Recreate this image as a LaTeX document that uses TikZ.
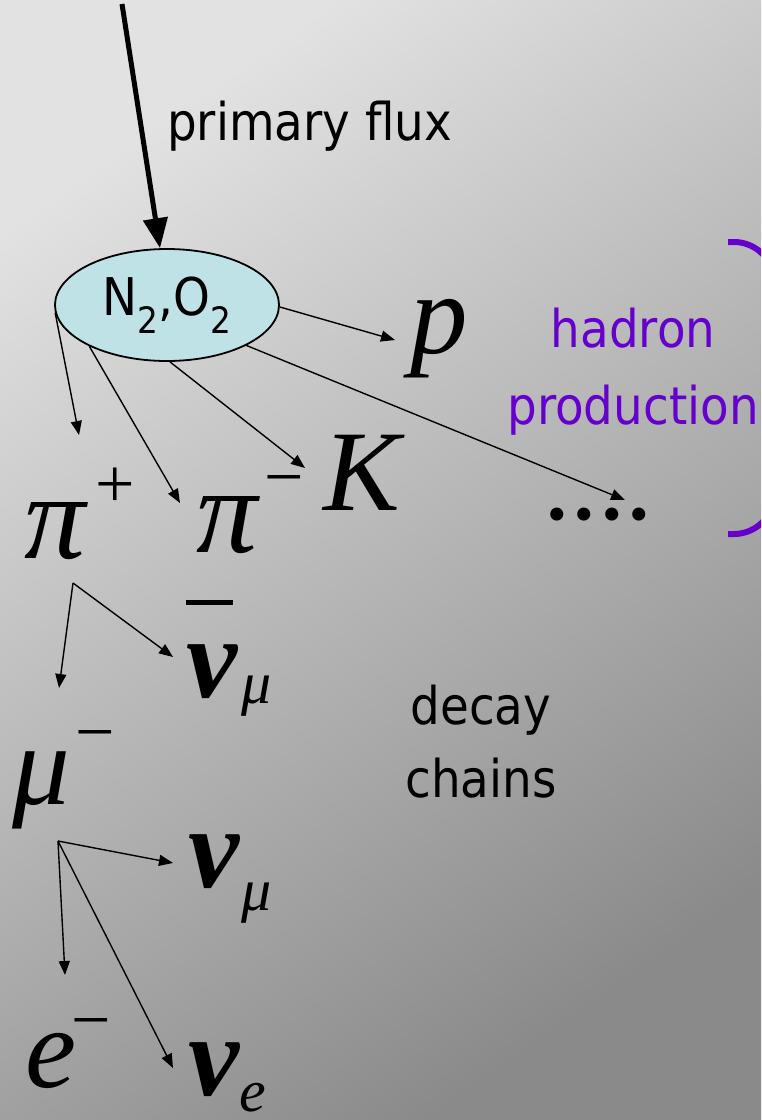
\documentclass[tikz,border=0pt]{standalone}
\usepackage{fontspec}
\setmainfont[FakeStretch=0.9]{DejaVu Sans}
\newfontfamily\tms{Liberation Serif}
\newcommand\supfnt{\tms\upshape\mdseries\fontsize{70}{70}\selectfont}
\newcommand\subfnt{\mdseries\fontsize{60}{60}\selectfont}
\usetikzlibrary{arrows.meta,shapes.geometric}
\definecolor{bgtop}{RGB}{226,226,226}
\definecolor{bgbot}{RGB}{138,138,138}
\definecolor{airfill}{HTML}{BEE2E6}
\definecolor{hadpurple}{HTML}{6600CC}
\begin{document}
\begin{tikzpicture}[x=1pt,y=-1pt,
  arr/.style={-{Triangle[length=14pt,width=11pt]}, line width=1.4pt},
  fluxarr/.style={-{Triangle[length=30pt,width=24pt]}, line width=5pt},
  sym/.style={font=\tms\itshape\fontsize{115}{115}\selectfont, inner sep=0},
  bsym/.style={font=\tms\itshape\bfseries\fontsize{115}{115}\selectfont, inner sep=0},
  lbl/.style={font=\fontsize{52}{52}\selectfont, inner sep=0, align=center},
]
\useasboundingbox (0,0) rectangle (761,1120);
\clip (0,0) rectangle (761,1120);
\shade[top color=bgtop, bottom color=bgbot, shading angle=35] (0,0) rectangle (761,1120);

% primary flux
\coordinate (src) at (122,4);
\node[lbl, anchor=base west] (fluxlbl) at (167,140) {primary flux};
\node[ellipse, draw, line width=1.8pt, fill=airfill, minimum width=224pt, minimum height=112pt, inner sep=0,
      font=\fontsize{52}{52}\selectfont] (air) at (167,305) {N\textsubscript{2},O\textsubscript{2}};
\draw[fluxarr] (src) -- (air.97);

% hadrons
\node[sym, anchor=base west] (p) at (410,353) {p};
\node[sym, anchor=base west, font=\tms\itshape\fontsize{122}{122}\selectfont] (piplus) at (24,558) {\rlap{π}\hspace{71pt}\raisebox{51pt}{\supfnt +}};
\node[sym, anchor=base west, font=\tms\itshape\fontsize{122}{122}\selectfont] (piminus) at (196,552) {\rlap{π}\hspace{68pt}\raisebox{52pt}{\supfnt −}};
\node[sym, anchor=base west] (K) at (323,510) {K};
\node[inner sep=0, anchor=base west, font=\tms\upshape\fontsize{110}{110}\selectfont] (dots) at (543,519) {....};

\coordinate (tpip) at (79,435);
\coordinate (tpim) at (180,503);
\coordinate (tK) at (305,468);
\coordinate (tdots) at (625,500);
\coordinate (tp) at (395,340);
\draw[arr] (air.184) -- (tpip);
\draw[arr] (air.208) -- (tpim);
\draw[arr] (air.273) -- (tK);
\draw[arr] (air.333) -- (tdots);
\draw[arr] (air.359) -- (tp);

% hadron production
\node[lbl, text=hadpurple, font=\fontsize{52}{77}\selectfont] (hadlbl) at (633,372) {hadron\\production};
\draw[hadpurple, line width=6pt, rounded corners=40pt] (728,242) -- (774,242) -- (774,534) -- (728,534);

% pion decay
\coordinate (pidec) at (73,583);
\coordinate (tmu) at (59,688);
\coordinate (tnumubar) at (173,657);
\draw[arr] (pidec) -- (tmu);
\draw[arr] (pidec) -- (tnumubar);
\node[bsym, anchor=base west] (numubar) at (186,697) {\rlap{\raisebox{92pt}{\rule{47pt}{5pt}}}ν\hspace{4pt}\raisebox{-6pt}{\subfnt μ}};
\node[sym, anchor=base west] (mu) at (12,804) {\rlap{μ}\hspace{63pt}\raisebox{49pt}{\supfnt −}};

\node[lbl, font=\fontsize{52}{73}\selectfont] (declbl) at (481,742) {decay\\chains};

% muon decay
\coordinate (mudec) at (58,841);
\coordinate (tnumu) at (173,863);
\coordinate (te) at (65,975);
\coordinate (tnue) at (173,1068);
\draw[arr] (mudec) -- (tnumu);
\draw[arr] (mudec) -- (te);
\draw[arr] (mudec) -- (tnue);
\node[bsym, anchor=base west] (numu) at (188,887) {ν\hspace{2pt}\raisebox{-23pt}{\subfnt μ}};
\node[sym, anchor=base west] (elec) at (25,1087) {\rlap{e}\hspace{46pt}\raisebox{44pt}{\supfnt −}};
\node[bsym, anchor=base west] (nue) at (188,1095) {ν\raisebox{-16pt}{\subfnt e}};
\end{tikzpicture}
\end{document}
